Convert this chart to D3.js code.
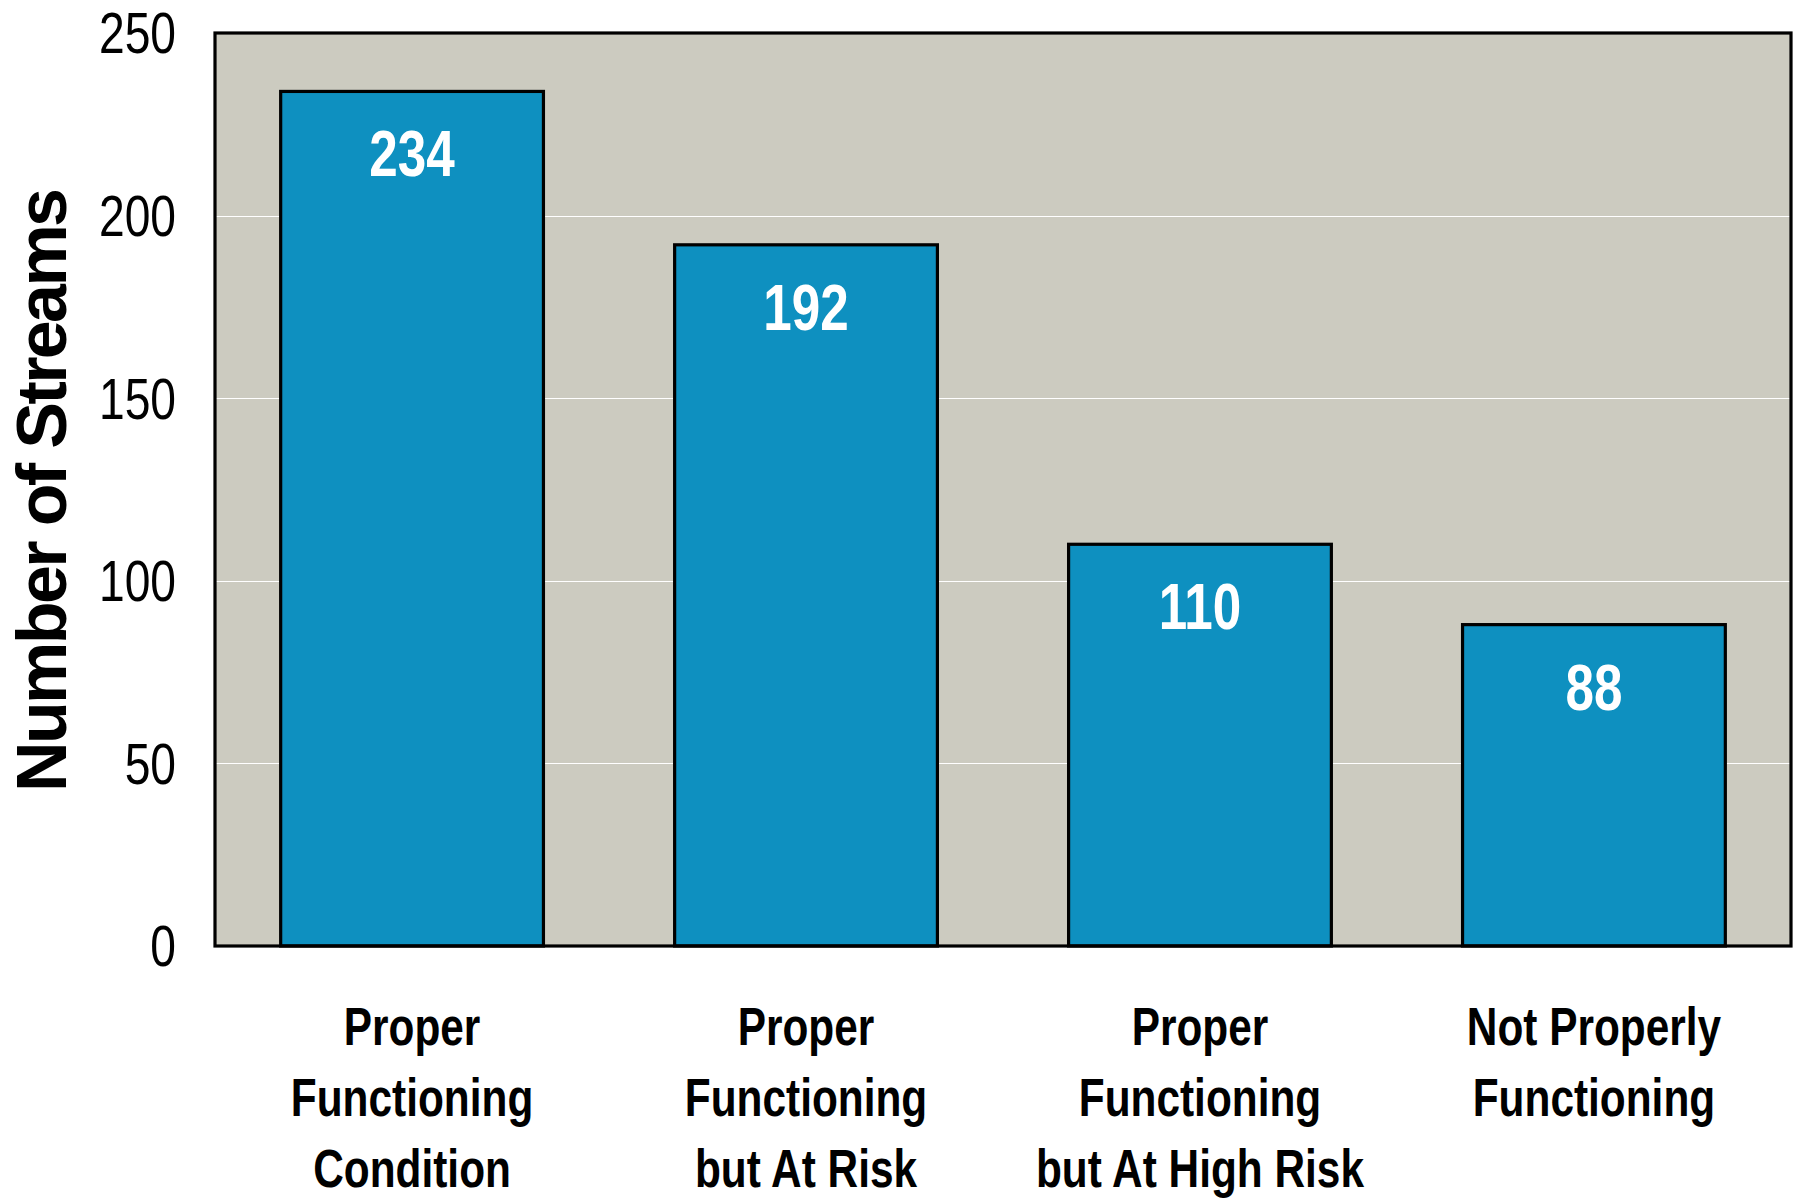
<!DOCTYPE html>
<html>
<head>
<meta charset="utf-8">
<script src="https://cdn.jsdelivr.net/npm/d3@7"></script>
<style>
  html, body { margin: 0; padding: 0; background: #ffffff; }
  svg { display: block; }
  text { font-family: "Liberation Sans", Arial, sans-serif; }
</style>
</head>
<body>
<svg id="chart" width="1801" height="1200"></svg>
<script>
const categories = [
  ["Proper", "Functioning", "Condition"],
  ["Proper", "Functioning", "but At Risk"],
  ["Proper", "Functioning", "but At High Risk"],
  ["Not Properly", "Functioning"]
];
const categoryKeys = ["PFC", "FAR", "FAHR", "NF"];
const values = [234, 192, 110, 88];
const yTicks = [0, 50, 100, 150, 200, 250];
const yTitle = "Number of Streams";

const svg = d3.select("#chart");
const plot = { left: 215, right: 1791, top: 33, bottom: 946 };

const x = d3.scaleBand()
  .domain(categoryKeys)
  .range([plot.left, plot.right])
  .paddingInner(0.333)
  .paddingOuter(0.1667);

const y = d3.scaleLinear()
  .domain([0, 250])
  .range([plot.bottom, plot.top]);

// horizontal condensing factors (emulate Arial Narrow)
const sTick = 0.81, sVal = 0.80, sCat = 0.785;

// plot background
svg.append("rect")
  .attr("x", plot.left).attr("y", plot.top)
  .attr("width", plot.right - plot.left)
  .attr("height", plot.bottom - plot.top)
  .attr("fill", "#cccbc0");

// gridlines
svg.append("g")
  .selectAll("line")
  .data(yTicks.filter(d => d > 0 && d < 250))
  .join("line")
  .attr("x1", plot.left).attr("x2", plot.right)
  .attr("y1", d => Math.round(y(d)) + 0.5).attr("y2", d => Math.round(y(d)) + 0.5)
  .attr("stroke", "#ffffff")
  .attr("stroke-width", 1.2);

// bars
svg.append("g")
  .selectAll("rect")
  .data(values)
  .join("rect")
  .attr("x", (d, i) => x(categoryKeys[i]))
  .attr("y", d => y(d))
  .attr("width", x.bandwidth())
  .attr("height", d => y(0) - y(d))
  .attr("fill", "#0e90c0")
  .attr("stroke", "#000000")
  .attr("stroke-width", 3.2);

// value labels
svg.append("g")
  .selectAll("text")
  .data(values)
  .join("text")
  .attr("transform", `scale(${sVal},1)`)
  .attr("x", (d, i) => (x(categoryKeys[i]) + x.bandwidth() / 2) / sVal)
  .attr("y", d => y(d) + 85)
  .attr("text-anchor", "middle")
  .attr("fill", "#ffffff")
  .attr("font-weight", "bold")
  .attr("font-size", 64)
  .text(d => d);

// plot border
svg.append("rect")
  .attr("x", plot.left).attr("y", plot.top)
  .attr("width", plot.right - plot.left)
  .attr("height", plot.bottom - plot.top)
  .attr("fill", "none")
  .attr("stroke", "#000000")
  .attr("stroke-width", 3.2);

// y axis
const yAxis = d3.axisLeft(y)
  .tickValues(yTicks)
  .tickSize(0)
  .tickPadding(39)
  .tickFormat(d3.format("d"));
const gy = svg.append("g")
  .attr("transform", `translate(${plot.left},0)`)
  .call(yAxis);
gy.select(".domain").remove();
gy.selectAll("text")
  .attr("font-family", "'Liberation Sans', Arial, sans-serif")
  .attr("font-size", 57)
  .attr("fill", "#000000")
  .attr("transform", `scale(${sTick},1)`)
  .attr("x", -39 / sTick)
  .attr("dy", "0.35em");

// x axis labels
const xAxis = d3.axisBottom(x).tickSize(0).tickFormat("");
const gx = svg.append("g")
  .attr("transform", `translate(0,${plot.bottom})`)
  .call(xAxis);
gx.select(".domain").remove();
gx.selectAll(".tick").each(function(d, i) {
  const t = d3.select(this).append("text")
    .attr("transform", `scale(${sCat},1)`)
    .attr("text-anchor", "middle")
    .attr("font-family", "'Liberation Sans', Arial, sans-serif")
    .attr("fill", "#000000")
    .attr("font-weight", "bold")
    .attr("font-size", 54);
  categories[i].forEach((line, j) => {
    t.append("tspan")
      .attr("x", 0)
      .attr("y", 99 + j * 71)
      .text(line);
  });
});

// y title
svg.append("text")
  .attr("transform", "translate(66,490) rotate(-90)")
  .attr("text-anchor", "middle")
  .attr("font-family", "'Liberation Sans', Arial, sans-serif")
  .attr("font-weight", "bold")
  .attr("font-size", 70)
  .attr("fill", "#000000")
  .attr("textLength", 604)
  .attr("lengthAdjust", "spacing")
  .text(yTitle);
</script>
</body>
</html>
